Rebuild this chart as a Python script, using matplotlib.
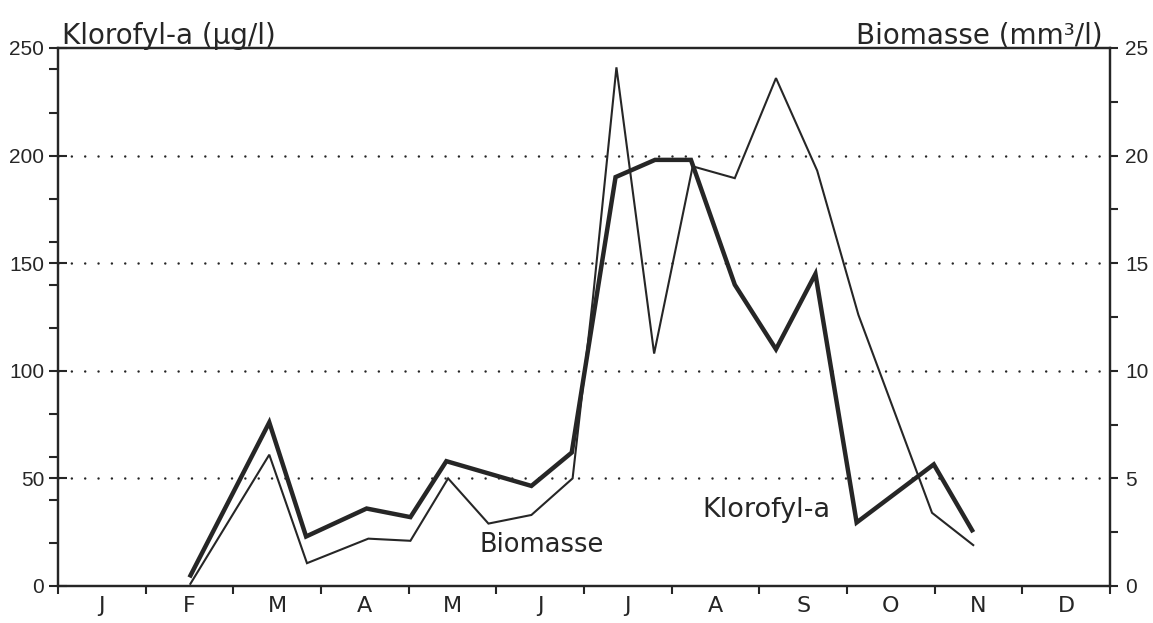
import matplotlib
matplotlib.use('Agg')
import matplotlib.pyplot as plt
import numpy as np

plt.rcParams['lines.scale_dashes'] = False

# ---- data (x in months from 1 Jan, 0..12) ----
months = ['J', 'F', 'M', 'A', 'M', 'J', 'J', 'A', 'S', 'O', 'N', 'D']

chl_pos = [1.50, 2.41, 2.83, 3.52, 4.02, 4.43, 5.40, 5.86, 6.36, 6.81, 7.22,
           7.72, 8.19, 8.64, 9.11, 9.99, 10.44]
chl_val = [4, 76, 23, 36, 32, 58, 46.5, 62, 190, 198, 198,
           140, 110, 145, 29.5, 56.5, 25]

bio_pos = [1.51, 2.41, 2.84, 3.54, 4.02, 4.45, 4.91, 5.40, 5.87, 6.10, 6.37,
           6.80, 7.24, 7.72, 8.19, 8.66, 9.13, 9.97, 10.44]
bio_val = [0.1, 6.1, 1.06, 2.2, 2.1, 5.0, 2.9, 3.3, 5.0, 13.3, 24.1,
           10.8, 19.5, 18.95, 23.6, 19.3, 12.6, 3.4, 1.9]

left_ticks = [0, 50, 100, 150, 200, 250]
left_minor = [20, 40, 60, 80, 120, 140, 160, 180, 220, 240]
right_ticks = [0, 5, 10, 15, 20, 25]
right_minor = [2.5, 7.5, 12.5, 17.5, 22.5]
grid_levels = [50, 100, 150, 200]

INK = '#262626'

fig = plt.figure(figsize=(11.53, 6.23), dpi=100)
fig.patch.set_facecolor('white')
ax = fig.add_axes([0.0503, 0.0594, 0.9124, 0.8636])
ax2 = ax.twinx()

ax.set_xlim(0, 12)
ax.set_ylim(0, 250)
ax2.set_ylim(0, 25)

# dotted grid
for g in grid_levels:
    ax.axhline(g, color=INK, lw=1.8, linestyle=(0, (0.01, 9.6)),
               dash_capstyle='round', zorder=1)

# series
ax.plot(chl_pos, chl_val, color=INK, lw=3.2, solid_joinstyle='miter',
        solid_capstyle='butt', zorder=3)
ax2.plot(bio_pos, bio_val, color=INK, lw=1.5, solid_joinstyle='miter',
         zorder=2)

# spines
for a in (ax, ax2):
    for s in a.spines.values():
        s.set_linewidth(1.6)
        s.set_color(INK)

# x axis
ax.set_xticks(range(13))
ax.set_xticklabels([''] * 13)
ax.set_xticks(np.arange(0.5, 12, 1), minor=True)
ax.set_xticklabels(months, minor=True, fontsize=16, family='DejaVu Sans',
                   color=INK)
ax.tick_params(axis='x', which='major', direction='out', length=6, width=1.5,
               color=INK)
ax.tick_params(axis='x', which='minor', length=0, pad=7)

# left y axis
ax.set_yticks(left_ticks)
ax.set_yticklabels([str(v) for v in left_ticks], fontsize=15,
                   family='Liberation Sans', color=INK)
ax.set_yticks(left_minor, minor=True)
ax.tick_params(axis='y', which='major', direction='inout', length=13,
               width=1.5, pad=3.5, color=INK)
ax.tick_params(axis='y', which='minor', direction='out', length=6.5,
               width=1.5, color=INK)

# right y axis
ax2.set_yticks(right_ticks)
ax2.set_yticklabels([str(v) for v in right_ticks], fontsize=15,
                    family='Liberation Sans', color=INK)
ax2.set_yticks(right_minor, minor=True)
ax2.tick_params(axis='y', which='major', direction='out', length=6,
                width=1.5, pad=5, color=INK)
ax2.tick_params(axis='y', which='minor', direction='out', length=6,
                width=1.5, color=INK)

# axis titles above frame
ax.annotate('Klorofyl-a (µg/l)', xy=(0, 1), xycoords='axes fraction',
            xytext=(3, 3), textcoords='offset points', ha='left',
            va='baseline', fontsize=20, family='DejaVu Sans', color=INK)
ax.annotate('Biomasse (mm³/l)', xy=(1, 1), xycoords='axes fraction',
            xytext=(-5, 3), textcoords='offset points', ha='right',
            va='baseline', fontsize=20, family='DejaVu Sans', color=INK)

# in-plot labels
ax.text(4.81, 15.8, 'Biomasse', ha='left', va='baseline', fontsize=18.5,
        family='DejaVu Sans', color=INK, zorder=4)
ax.text(7.35, 32, 'Klorofyl-a', ha='left', va='baseline', fontsize=19.5,
        family='DejaVu Sans', color=INK, zorder=4)

fig.savefig('out.png', dpi=100, facecolor='white')
